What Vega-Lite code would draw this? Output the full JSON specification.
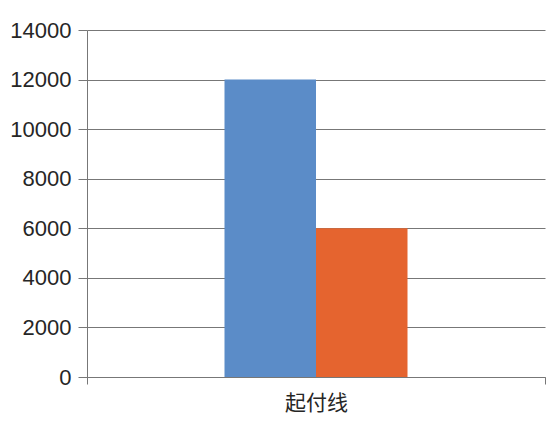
{
  "$schema": "https://vega.github.io/schema/vega-lite/v6.json",
  "width": 458,
  "height": 347,
  "autosize": {"type": "none"},
  "padding": {"left": 87, "top": 30, "right": 5, "bottom": 61},
  "background": "white",
  "data": {
    "values": [
      {"category": "起付线", "series": "A", "value": 12000},
      {"category": "起付线", "series": "B", "value": 6000}
    ]
  },
  "mark": {"type": "bar"},
  "encoding": {
    "x": {
      "field": "category",
      "type": "nominal",
      "title": null,
      "scale": {"paddingInner": 0, "paddingOuter": 0},
      "axis": {
        "labelAngle": 0,
        "labelFont": "Noto Sans CJK SC",
        "labelFontSize": 21,
        "labelColor": "#262626",
        "labelPadding": 8,
        "domainColor": "#777777",
        "tickColor": "#777777",
        "tickBand": "extent",
        "tickSize": 7,
        "grid": false
      }
    },
    "xOffset": {
      "field": "series",
      "type": "nominal",
      "scale": {"paddingInner": 0, "paddingOuter": 0, "range": [137.5, 320.5]}
    },
    "y": {
      "field": "value",
      "type": "quantitative",
      "title": null,
      "scale": {"domain": [0, 14000], "nice": false},
      "axis": {
        "values": [0, 2000, 4000, 6000, 8000, 10000, 12000, 14000],
        "format": "d",
        "labelFont": "Liberation Sans",
        "labelFontSize": 22,
        "labelColor": "#262626",
        "labelPadding": 7,
        "tickSize": 9,
        "tickColor": "#777777",
        "domainColor": "#777777",
        "gridColor": "#777777",
        "gridOpacity": 1
      }
    },
    "color": {
      "field": "series",
      "type": "nominal",
      "scale": {"domain": ["A", "B"], "range": ["#5B8CC8", "#E5642F"]},
      "legend": null
    }
  },
  "config": {"view": {"stroke": null}}
}
